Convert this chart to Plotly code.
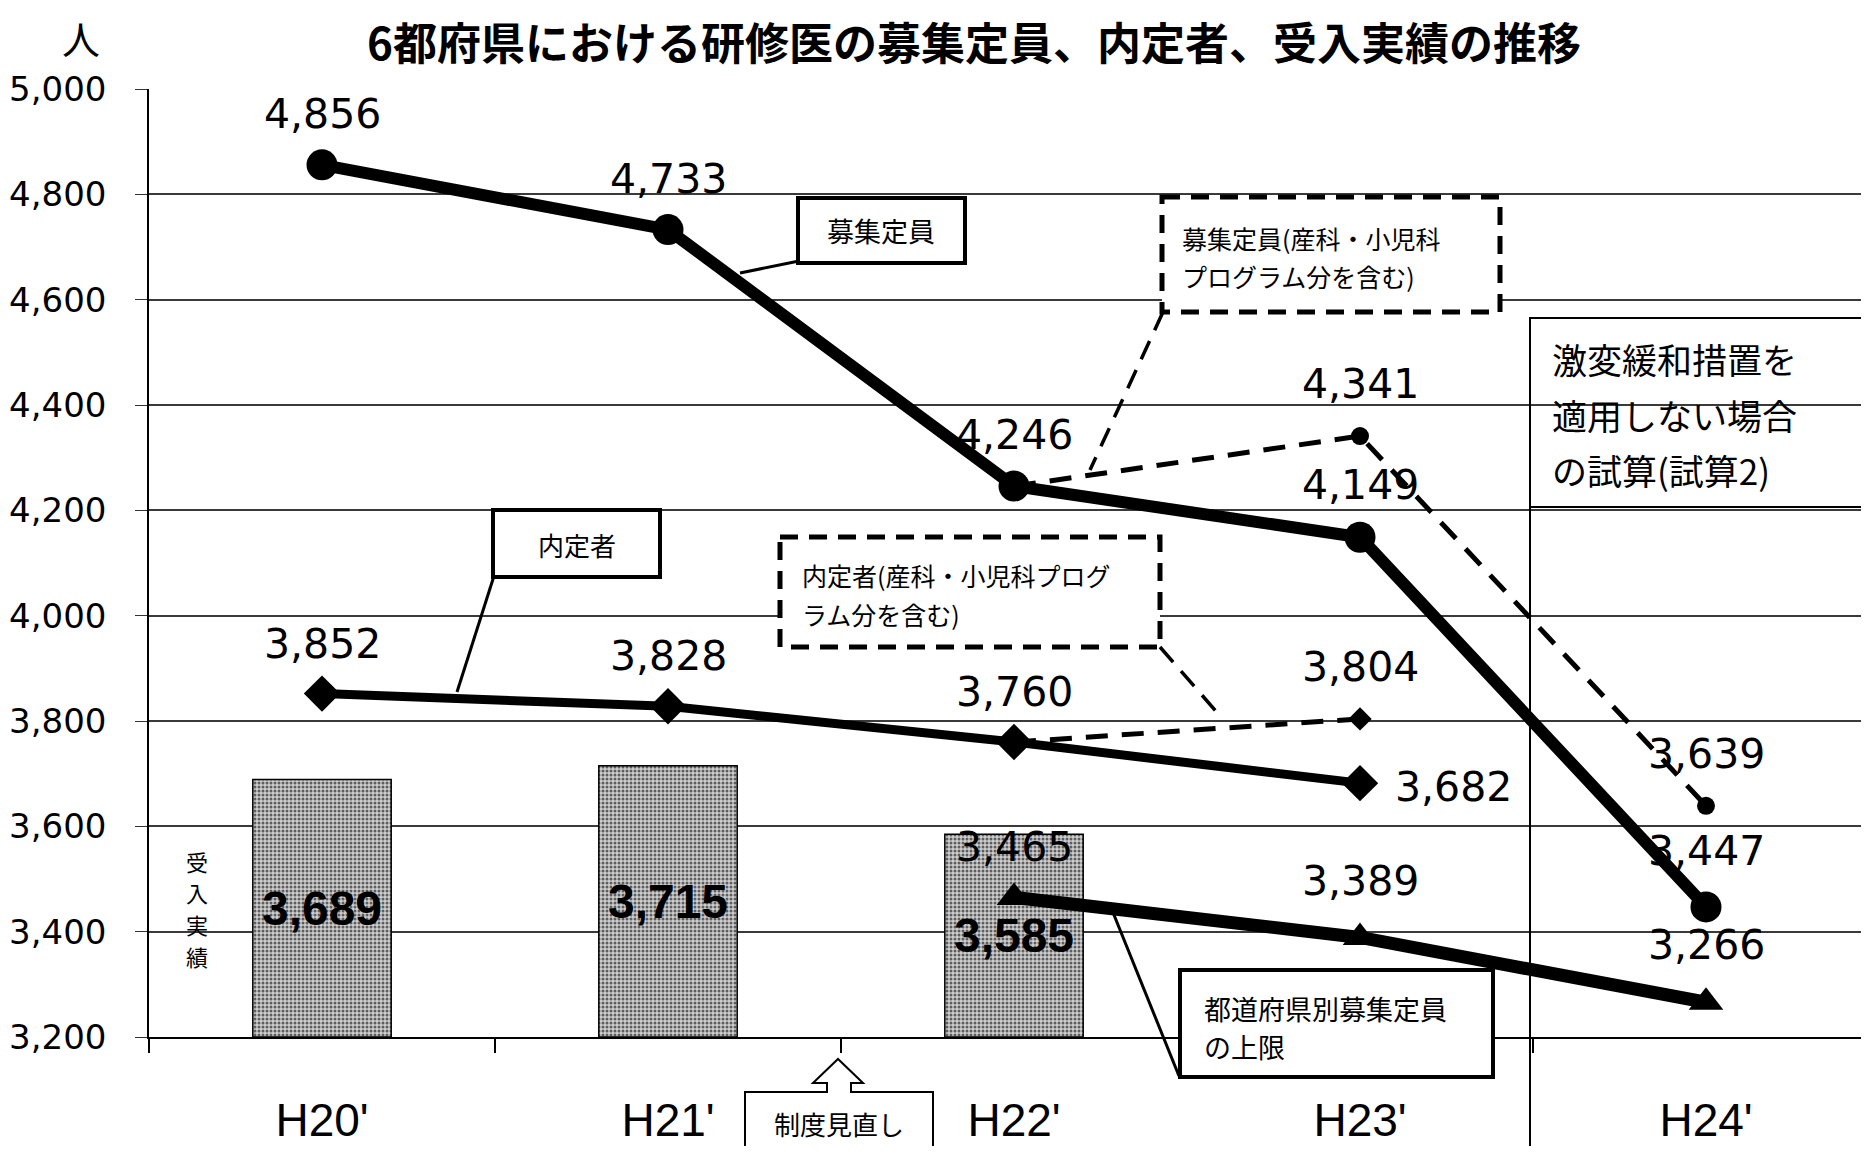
import plotly.graph_objects as go

# ---------------- data ----------------
categories = ["H20'", "H21'", "H22'", "H23'", "H24'"]
received = [3689, 3715, 3585]                      # 受入実績 (H20'-H22')
quota = [4856, 4733, 4246, 4149, 3447]             # 募集定員
quota_incl_x = ["H22'", "H23'", "H24'"]
quota_incl = [4246, 4341, 3639]                    # 募集定員(産科・小児科プログラム分を含む)
offers = [3852, 3828, 3760, 3682]                  # 内定者 (H20'-H23')
offers_incl_x = ["H22'", "H23'"]
offers_incl = [3760, 3804]                         # 内定者(産科・小児科プログラム分を含む)
cap_x = ["H22'", "H23'", "H24'"]
cap = [3465, 3389, 3266]                           # 都道府県別募集定員の上限
y_ticks = [3200, 3400, 3600, 3800, 4000, 4200, 4400, 4600, 4800, 5000]

Y_MIN, Y_MAX = 3200, 5000

# ---------------- geometry (page pixels; page body has an 8px margin) ----------------
OFF = 8
W, H = 1853, 1138
PLOT_LEFT, PLOT_TOP, PLOT_BOTTOM = 149, 89, 1037     # page pixels
L = PLOT_LEFT - OFF
T = PLOT_TOP - OFF
B = H - (PLOT_BOTTOM - OFF)
R = 0
PW, PH = W - L - R, H - T - B
CAT_W = 346


def px(x):
    return (x - OFF - L) / PW


def py(y):
    return (H - B - (y - OFF)) / PH


NUM_FONT = "DejaVu Sans"
JP_FONT = "Noto Sans CJK JP"

fig = go.Figure()

# bars: 受入実績
fig.add_trace(go.Bar(
    x=categories[:len(received)],
    y=[v - Y_MIN for v in received],
    base=Y_MIN,
    width=0.4,
    text=[f"{v:,}" for v in received],
    textposition="inside",
    insidetextanchor="middle",
    constraintext="none",
    textfont=dict(family="Liberation Sans", size=48, color="black", weight="bold"),
    marker=dict(
        color="#c8c8c8",
        line=dict(color="black", width=1.5),
        pattern=dict(shape=".", fgcolor="#5e5e5e", bgcolor="#cfcfcf",
                     size=4, solidity=0.45, fillmode="replace"),
    ),
    hoverinfo="skip",
))

# dashed series (drawn first, under solids)
fig.add_trace(go.Scatter(
    x=quota_incl_x, y=quota_incl, mode="lines+markers",
    line=dict(color="black", width=5, dash="22px,14px"),
    marker=dict(symbol="circle", size=[0, 18, 18], color="black", opacity=1,
                line=dict(width=0)),
    cliponaxis=False,
))
fig.add_trace(go.Scatter(
    x=offers_incl_x, y=offers_incl, mode="lines+markers",
    line=dict(color="black", width=5, dash="22px,14px"),
    marker=dict(symbol="diamond", size=[0, 18], color="black", opacity=1,
                line=dict(width=0)),
    cliponaxis=False,
))

# solid series
fig.add_trace(go.Scatter(
    x=categories[:len(quota)], y=quota, mode="lines+markers",
    line=dict(color="black", width=12),
    marker=dict(symbol="circle", size=31, color="black"),
    cliponaxis=False,
))
fig.add_trace(go.Scatter(
    x=categories[:len(offers)], y=offers, mode="lines+markers",
    line=dict(color="black", width=9),
    marker=dict(symbol="diamond", size=28, color="black"),
    cliponaxis=False,
))
fig.add_trace(go.Scatter(
    x=cap_x, y=cap, mode="lines+markers",
    line=dict(color="black", width=13),
    marker=dict(symbol="triangle-up", size=30, color="black"),
    cliponaxis=False,
))

annotations = []


def add_labels(xs, ys, shifts):
    for xv, yv, (dx, dy) in zip(xs, ys, shifts):
        annotations.append(dict(
            x=xv, y=yv, xref="x", yref="y", text=f"{yv:,}", showarrow=False,
            xshift=dx, yshift=dy, xanchor="center", yanchor="middle",
            font=dict(family=NUM_FONT, size=41, color="black"),
        ))


add_labels(categories, quota, [(0, 51), (0, 51), (0, 51), (0, 52), (0, 56)])
add_labels(quota_incl_x[1:], quota_incl[1:], [(0, 52), (0, 52)])
add_labels(categories, offers, [(0, 50), (0, 50), (0, 50), (93, -4)])
add_labels(offers_incl_x[1:], offers_incl[1:], [(0, 52)])
add_labels(cap_x, cap, [(0, 50), (0, 56), (0, 57)])


def txt(x, y, s, size, xanchor="center", family=JP_FONT, bold=False):
    annotations.append(dict(
        x=px(x), y=py(y), xref="paper", yref="paper",
        text=(f"<b>{s}</b>" if bold else s), showarrow=False,
        xanchor=xanchor, yanchor="middle", align="left",
        font=dict(family=family, size=size, color="black"),
    ))


txt(974, 41, "6都府県における研修医の募集定員、内定者、受入実績の推移", 44, bold=True)
txt(81, 38, "人", 38)
txt(881, 231, "募集定員", 27)
txt(1180, 238, "募集定員(産科・小児科", 25, xanchor="left")
txt(1180, 276, "プログラム分を含む)", 25, xanchor="left")
txt(577, 544, "内定者", 26)
txt(800, 575, "内定者(産科・小児科プログ", 25, xanchor="left")
txt(800, 614, "ラム分を含む)", 25, xanchor="left")
txt(1202, 1008, "都道府県別募集定員", 27, xanchor="left")
txt(1202, 1046, "の上限", 27, xanchor="left")
txt(1550, 358, "激変緩和措置を", 35, xanchor="left")
txt(1550, 414, "適用しない場合", 35, xanchor="left")
txt(1550, 469, "の試算(試算2)", 35, xanchor="left")
txt(839, 1123, "制度見直し", 26)
for ch, yy in zip("受入実績", [861, 892, 924, 956]):
    txt(197, yy, ch, 22)

shapes = []


def rect(x0, y0, x1, y1, width=3, dash=None, fill="white"):
    shapes.append(dict(
        type="rect", xref="paper", yref="paper",
        x0=px(x0), y0=py(y0), x1=px(x1), y1=py(y1),
        line=dict(color="black", width=width, dash=dash),
        fillcolor=fill, layer="above",
    ))


def seg(x0, y0, x1, y1, width=3, dash=None):
    shapes.append(dict(
        type="line", xref="paper", yref="paper",
        x0=px(x0), y0=py(y0), x1=px(x1), y1=py(y1),
        line=dict(color="black", width=width, dash=dash), layer="above",
    ))


# callout boxes and leaders
rect(798, 198, 965, 263, width=4)
seg(799, 261, 740, 273)
rect(1162, 197, 1500, 312, width=5, dash="18px,11px")
seg(1163, 312, 1090, 470, width=3.5, dash="20px,12px")
rect(493, 510, 660, 577, width=4)
seg(494, 576, 457, 692)
rect(780, 537, 1160, 647, width=5, dash="18px,11px")
seg(1160, 647, 1221, 717, width=3.5, dash="20px,12px")
rect(1180, 970, 1493, 1077, width=4)
seg(1112, 910, 1179, 1076)

# 激変緩和措置 region
rect(1530, 318, 1880, 1152, width=2, fill="rgba(0,0,0,0)")
seg(1530, 507, 1880, 507, width=2)

# 制度見直し arrow box
pts = [(745, 1092), (827, 1092), (827, 1083), (813, 1083), (838, 1059),
       (863, 1083), (851, 1083), (851, 1092), (933, 1092), (933, 1160), (745, 1160)]
path = "M " + " L ".join(f"{px(a):.5f},{py(b):.5f}" for a, b in pts) + " Z"
shapes.append(dict(type="path", xref="paper", yref="paper", path=path,
                   line=dict(color="black", width=2), fillcolor="white", layer="above"))

fig.update_layout(
    width=W, height=H, autosize=False,
    margin=dict(l=L, r=R, t=T, b=B, pad=0),
    plot_bgcolor="white", paper_bgcolor="white",
    showlegend=False,
    annotations=annotations,
    shapes=shapes,
    xaxis=dict(
        type="category", categoryorder="array", categoryarray=categories,
        range=[-0.5, -0.5 + PW / CAT_W],
        showline=True, linecolor="black", linewidth=1.5,
        ticks="outside", tickson="boundaries", ticklen=14, tickcolor="black", tickwidth=1.5,
        tickfont=dict(family="Liberation Sans", size=46, color="black"),
        ticklabelstandoff=42,
        showgrid=False, zeroline=False,
    ),
    yaxis=dict(
        range=[Y_MIN, Y_MAX], tickvals=y_ticks, ticktext=[f"{v:,}" for v in y_ticks],
        showline=True, linecolor="black", linewidth=1.5,
        ticks="outside", ticklen=12, tickcolor="#333", tickwidth=1.2,
        showgrid=True, gridcolor="#3a3a3a", gridwidth=1.5,
        tickfont=dict(family=NUM_FONT, size=34, color="black"),
        ticklabelstandoff=22,
        zeroline=False,
    ),
)

fig.write_html("out.html")
